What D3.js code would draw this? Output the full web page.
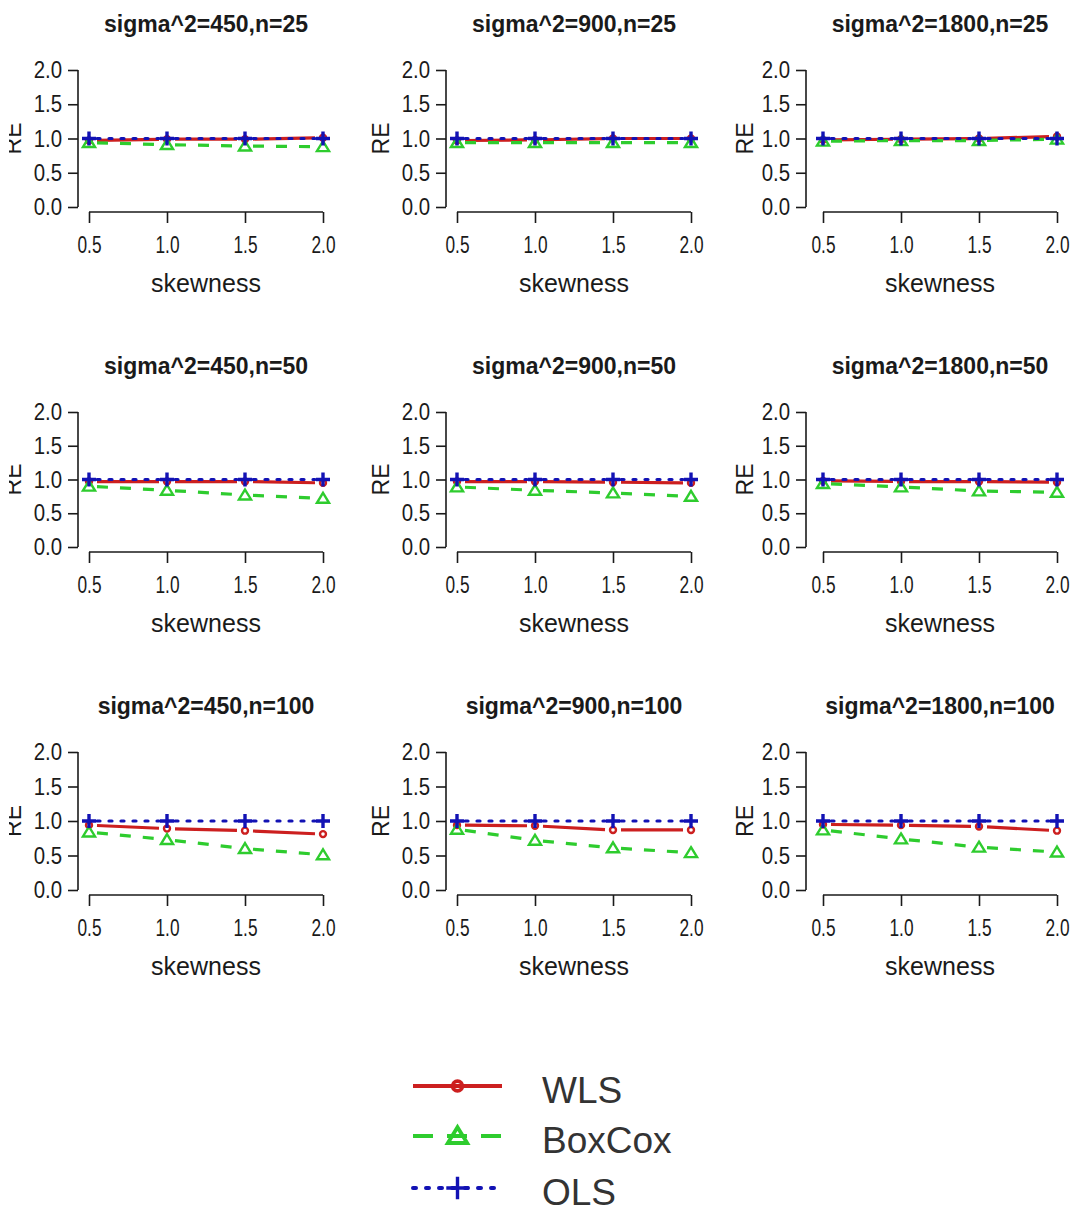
<!DOCTYPE html>
<html>
<head>
<meta charset="utf-8">
<script src="https://cdn.jsdelivr.net/npm/d3@7"></script>
<style>
  html, body { margin: 0; padding: 0; background: #fff; }
  svg { display: block; font-family: Arial, "Liberation Sans", sans-serif; }
</style>
</head>
<body>
<svg id="chart"></svg>
<script>
// x values and panel grid
const skewness = [0.5, 1.0, 1.5, 2.0];
const sigma2 = [450, 900, 1800];
const sampleSizes = [25, 50, 100];
const yTicks = [0, 0.5, 1.0, 1.5, 2.0];
const methods = ['WLS', 'BoxCox', 'OLS'];

// RE values, [row = n][col = sigma^2][skewness]
const wlsRE = [
  [[0.97, 0.99, 0.99, 1.01], [0.97, 0.98, 1.00, 1.00], [0.98, 0.99, 1.00, 1.03]],
  [[0.97, 0.97, 0.97, 0.95], [0.97, 0.97, 0.96, 0.95], [0.98, 0.97, 0.97, 0.96]],
  [[0.94, 0.89, 0.86, 0.81], [0.94, 0.93, 0.87, 0.87], [0.95, 0.94, 0.92, 0.86]]
];
const boxcoxRE = [
  [[0.94, 0.91, 0.89, 0.88], [0.94, 0.94, 0.94, 0.94], [0.96, 0.97, 0.97, 0.99]],
  [[0.90, 0.84, 0.77, 0.72], [0.89, 0.84, 0.80, 0.75], [0.94, 0.89, 0.83, 0.81]],
  [[0.84, 0.73, 0.60, 0.51], [0.88, 0.72, 0.61, 0.54], [0.87, 0.74, 0.62, 0.55]]
];
const olsRE = [
  [[1.00, 1.00, 1.00, 1.00], [1.00, 1.00, 1.00, 1.00], [1.00, 1.00, 1.00, 1.00]],
  [[1.00, 1.00, 1.00, 1.00], [1.00, 1.00, 1.00, 1.00], [1.00, 1.00, 1.00, 1.00]],
  [[1.00, 1.00, 1.00, 1.00], [1.00, 1.00, 1.00, 1.00], [1.00, 1.00, 1.00, 1.00]]
];

const W = 1077, H = 1213;
const INK = '#1a1a1a';

const style = {
  WLS:    { data: wlsRE,    color: '#cc1f1f', dash: null,    shape: 'circle' },
  BoxCox: { data: boxcoxRE, color: '#2ecc2e', dash: '11,12', shape: 'triangle' },
  OLS:    { data: olsRE,    color: '#1212b4', dash: '3,9',   shape: 'plus' }
};

// panel placement (column: y axis x, x-range; row: y(0), y(2))
const cols = [
  { axis: 78,  x0: 89,  x1: 323 },
  { axis: 446, x0: 457, x1: 691 },
  { axis: 806, x0: 823, x1: 1057 }
];
const rows = [
  { y0: 207, y2: 70 },
  { y0: 547, y2: 412 },
  { y0: 890, y2: 752 }
];
const reOffset = [-65, -65, -61];

const svg = d3.select('#chart').attr('width', W).attr('height', H);
svg.append('rect').attr('width', W).attr('height', H).attr('fill', '#fff');

// the left column's RE label is cut by the picture edge
svg.append('defs').append('clipPath').attr('id', 'edge')
  .append('rect').attr('x', 9).attr('y', 0).attr('width', W).attr('height', H);

function marker(g, shape, x, y, color, big) {
  const k = big ? 1.6 : 1;
  if (shape === 'circle') {
    g.append('circle').attr('cx', x).attr('cy', y).attr('r', 3 * k)
      .attr('fill', 'none').attr('stroke', color).attr('stroke-width', 2.4 * k);
  } else if (shape === 'triangle') {
    const s = 5.5 * k;
    g.append('path')
      .attr('d', `M${x},${y - s}L${x + s * 1.1},${y + s * 0.8}L${x - s * 1.1},${y + s * 0.8}Z`)
      .attr('fill', 'none').attr('stroke', color).attr('stroke-width', 2.4 * k);
  } else {
    const s = 7 * k;
    g.append('path').attr('d', `M${x - s},${y}H${x + s}M${x},${y - s}V${y + s}`)
      .attr('stroke', color).attr('stroke-width', 3.4);
  }
}

sampleSizes.forEach((n, r) => {
  sigma2.forEach((s2, c) => {
    const col = cols[c], row = rows[r];
    const x = d3.scaleLinear().domain([0.5, 2.0]).range([col.x0, col.x1]);
    const y = d3.scaleLinear().domain([0, 2]).range([row.y0, row.y2]);
    const xAxisY = row.y0 + 5;
    const g = svg.append('g');

    // title
    g.append('text')
      .attr('x', (col.x0 + col.x1) / 2).attr('y', row.y2 - 38)
      .attr('text-anchor', 'middle').attr('font-weight', 'bold')
      .attr('font-size', 23).attr('fill', INK)
      .text(`sigma^2=${s2},n=${n}`);

    // y axis
    g.append('g')
      .attr('transform', `translate(${col.axis},0)`)
      .call(d3.axisLeft(y).tickValues(yTicks).tickFormat(d3.format('.1f')).tickSize(10).tickPadding(6))
      .call(ax => {
        ax.select('.domain').attr('stroke', INK).attr('stroke-width', 1.6).attr('d', `M0,${y(0)}V${y(2)}`);
        ax.selectAll('.tick line').attr('stroke', INK).attr('stroke-width', 1.6);
        ax.selectAll('.tick text').attr('font-size', 24).attr('fill', INK)
          .attr('x', -16 / 0.85).attr('transform', 'scale(0.85,1)');
      });

    // x axis
    g.append('g')
      .attr('transform', `translate(0,${xAxisY})`)
      .call(d3.axisBottom(x).tickValues(skewness).tickFormat(d3.format('.1f')).tickSize(11).tickPadding(13))
      .call(ax => {
        ax.select('.domain').attr('stroke', INK).attr('stroke-width', 1.6).attr('d', `M${x(0.5)},0H${x(2.0)}`);
        ax.selectAll('.tick line').attr('stroke', INK).attr('stroke-width', 1.6);
        ax.selectAll('.tick text').attr('font-size', 24).attr('fill', INK)
          .attr('transform', 'scale(0.72,1)');
      });

    // axis titles
    g.append('text')
      .attr('x', (col.x0 + col.x1) / 2).attr('y', row.y0 + 85)
      .attr('text-anchor', 'middle').attr('font-size', 25).attr('fill', INK)
      .text('skewness');
    g.append('g')
      .attr('clip-path', c === 0 ? 'url(#edge)' : null)
      .append('text')
      .attr('transform', `translate(${col.axis + reOffset[c] + 8},${y(1)}) rotate(-90)`)
      .attr('text-anchor', 'middle').attr('font-size', 23).attr('fill', INK)
      .text('RE');

    // series, type = "b": segments with gaps around the points
    const gap = 8;
    methods.forEach(m => {
      const st = style[m];
      const vals = st.data[r][c];
      const pts = skewness.map((sx, i) => [x(sx), y(vals[i])]);
      const segs = d3.pairs(pts).map(([a, b]) => {
        const dx = b[0] - a[0], dy = b[1] - a[1];
        const len = Math.hypot(dx, dy);
        const ux = dx / len, uy = dy / len;
        return `M${a[0] + ux * gap},${a[1] + uy * gap}L${b[0] - ux * gap},${b[1] - uy * gap}`;
      }).join('');
      g.append('path').attr('d', segs)
        .attr('fill', 'none').attr('stroke', st.color).attr('stroke-width', 3.2)
        .attr('stroke-dasharray', st.dash)
        .attr('stroke-linecap', m === 'OLS' ? 'round' : 'butt');
      pts.forEach(p => marker(g, st.shape, p[0], p[1], st.color, false));
    });
  });
});

// legend
const legend = svg.append('g');
const legendY = [1086, 1136, 1188];
const legendDash = { WLS: null, BoxCox: '20,14', OLS: '3,10' };
const lx = d3.scaleLinear().domain([0, 1]).range([413, 502]);
methods.forEach((m, i) => {
  const st = style[m];
  const yy = legendY[i];
  legend.append('line')
    .attr('x1', lx(0)).attr('x2', lx(1)).attr('y1', yy).attr('y2', yy)
    .attr('stroke', st.color).attr('stroke-width', 4)
    .attr('stroke-dasharray', legendDash[m])
    .attr('stroke-linecap', m === 'OLS' ? 'round' : 'butt');
  marker(legend, st.shape, lx(0.5), yy, st.color, true);
  legend.append('text')
    .attr('x', 542).attr('y', yy + 17)
    .attr('font-size', 37).attr('fill', '#333')
    .text(m);
});
</script>
</body>
</html>
